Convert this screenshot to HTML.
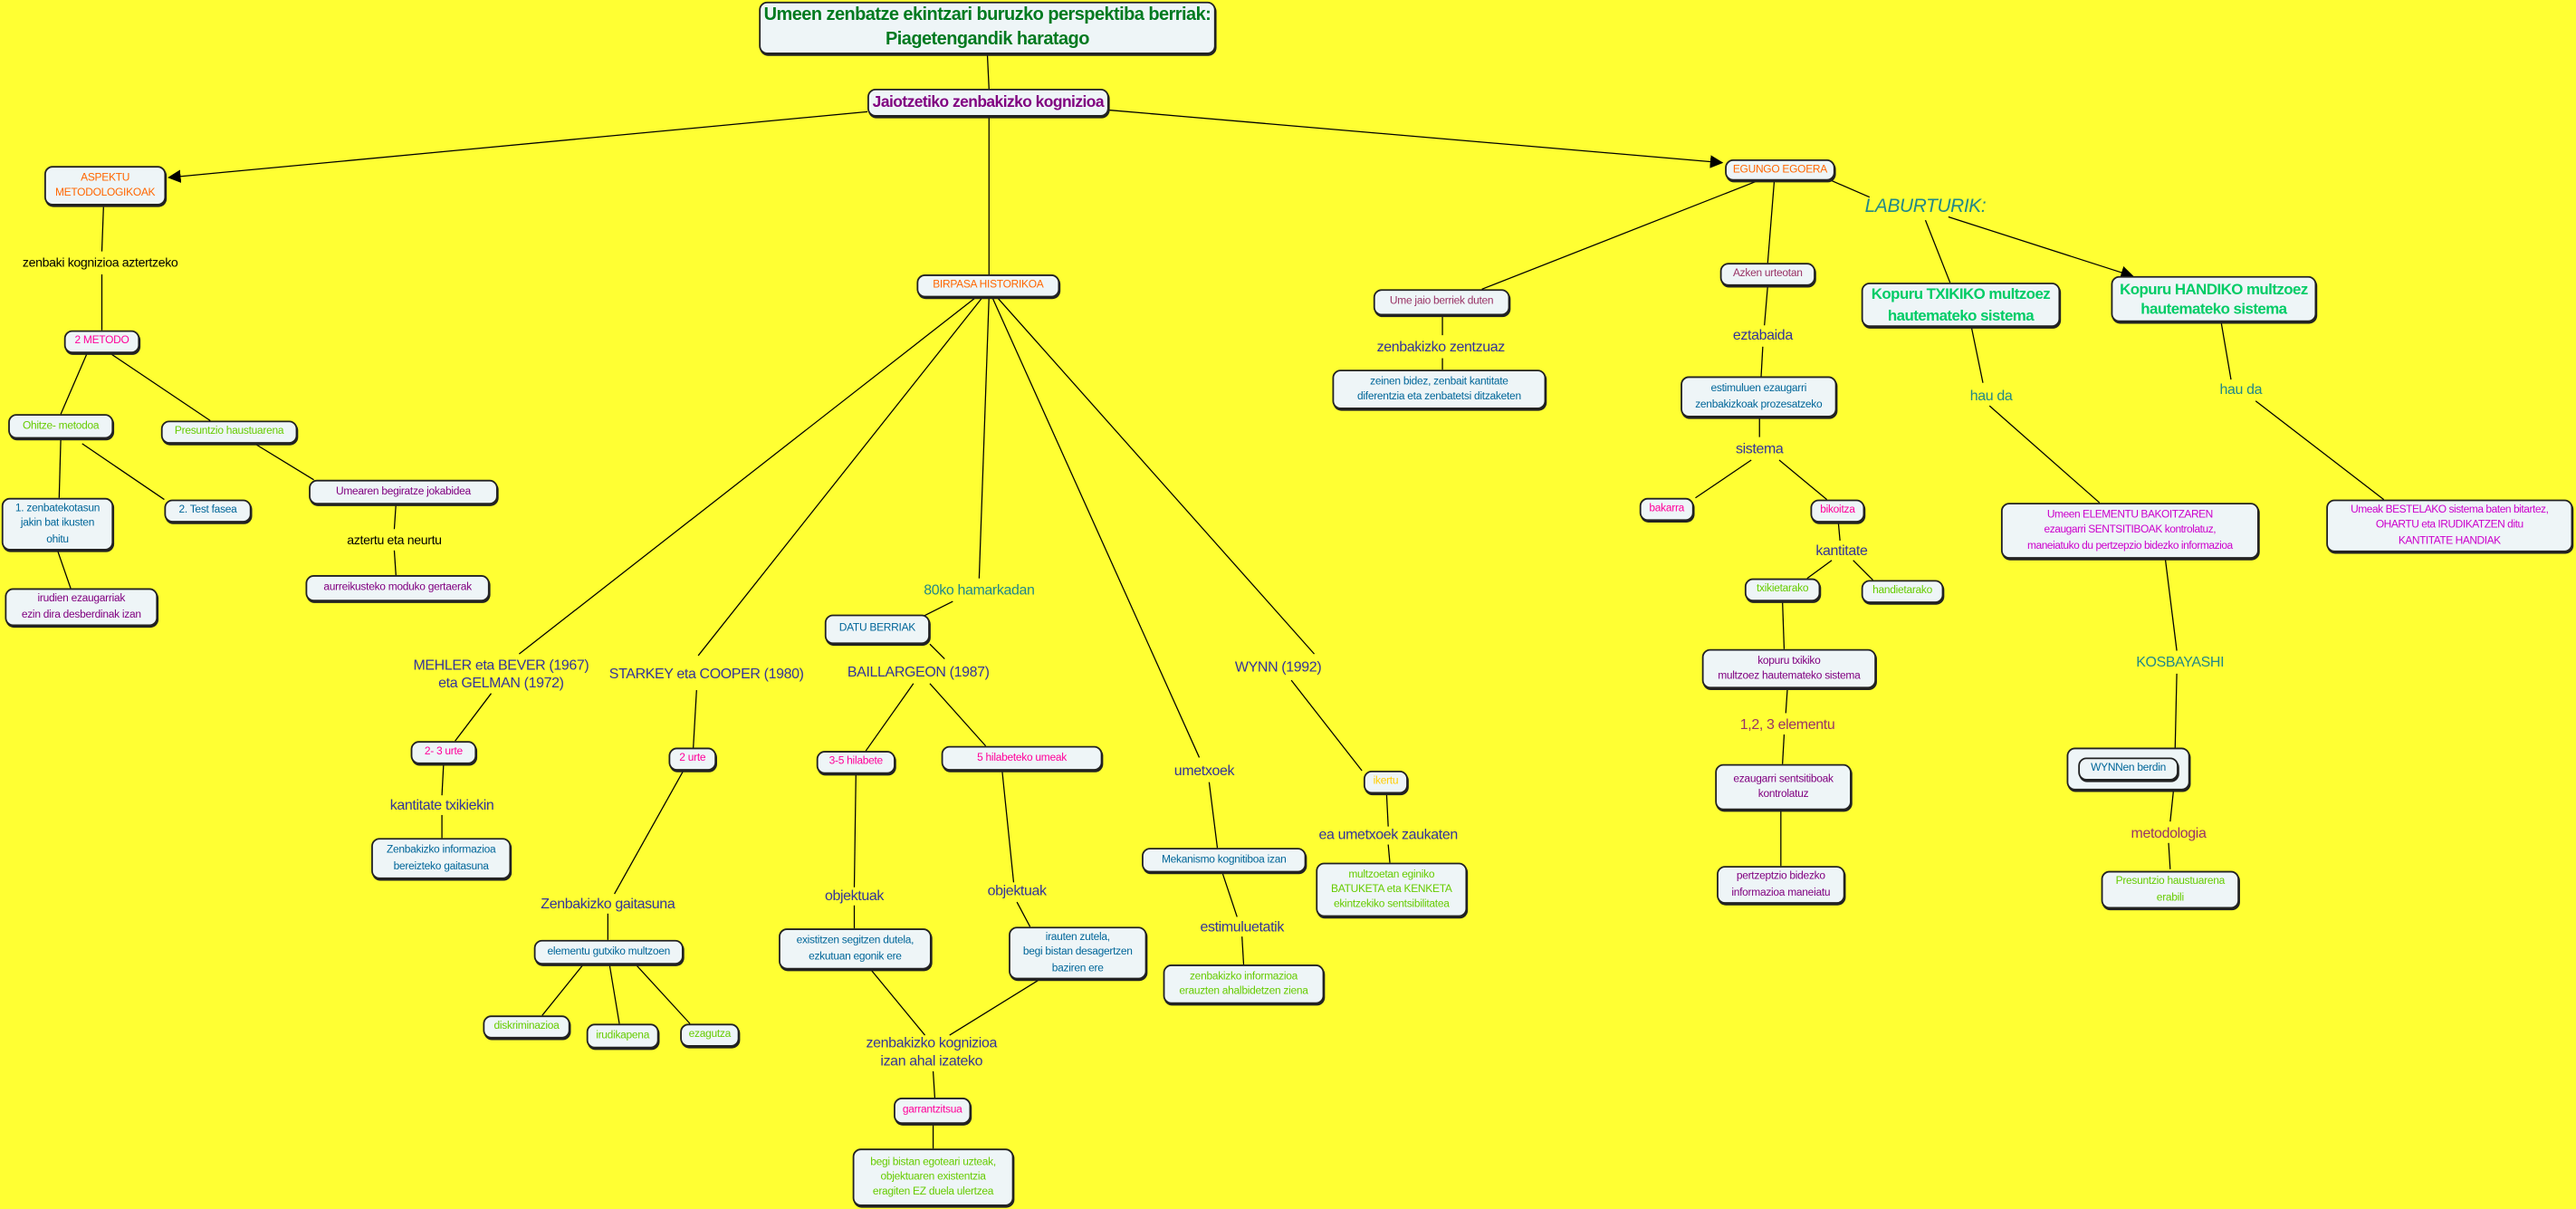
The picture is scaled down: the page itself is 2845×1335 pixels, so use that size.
<!DOCTYPE html>
<html><head><meta charset="utf-8">
<style>
html,body{margin:0;padding:0;background:#ffff33;overflow:hidden}
#c{position:absolute;left:0;top:0;width:1568px;height:736px;transform:scale(1.81441);transform-origin:0 0;font-family:"Liberation Sans",sans-serif}
.n{position:absolute;box-sizing:border-box;background:#eef5f7;border:1px solid #222;border-radius:5px;display:flex;align-items:center;justify-content:center;text-align:center;font-size:6.6px;letter-spacing:-0.15px;line-height:1.4;box-shadow:0.5px 1px 0 #222;white-space:nowrap}
.l{position:absolute;transform:translate(-50%,-50%);white-space:nowrap;text-align:center;font-size:8.8px;letter-spacing:-0.2px;color:#333399;line-height:1.2}
svg{position:absolute;left:0;top:0}
.o{color:#ff6600}.m{color:#ff0099}.g{color:#66cc00}.b{color:#006699}.p{color:#800080}.r{color:#993366}.t{color:#228888}.gg{color:#00cc66}.mm{color:#cc00cc}
</style></head><body><div id="c">
<svg width="1568" height="736" stroke="#000" stroke-width="0.7" fill="none">
<defs><marker id="a" markerWidth="8" markerHeight="8" refX="7" refY="4" orient="auto" markerUnits="userSpaceOnUse"><path d="M0,0 L8,4 L0,8z" fill="#000" stroke="none"/></marker></defs>
<line x1="601" y1="33" x2="602" y2="54"/>
<line x1="528" y1="68" x2="103" y2="108" marker-end="url(#a)"/>
<line x1="675" y1="67" x2="1048" y2="99" marker-end="url(#a)"/>
<line x1="602" y1="71" x2="602" y2="167"/>
<line x1="63" y1="126" x2="62" y2="153"/><line x1="62" y1="167" x2="62" y2="201"/>
<line x1="53" y1="215" x2="37" y2="252"/><line x1="67" y1="215" x2="128" y2="256"/>
<line x1="37" y1="267" x2="36" y2="303"/><line x1="50" y1="270" x2="100" y2="304"/>
<line x1="155" y1="270" x2="191" y2="292"/>
<line x1="241" y1="307" x2="240" y2="322"/><line x1="240" y1="335" x2="241" y2="350"/>
<line x1="35" y1="335" x2="43" y2="358"/>
<line x1="594" y1="181" x2="316" y2="398"/><line x1="299" y1="422" x2="277" y2="451"/>
<line x1="598" y1="181" x2="425" y2="399"/><line x1="424" y1="420" x2="422" y2="455"/>
<line x1="602" y1="181" x2="596" y2="352"/><line x1="580" y1="366" x2="562" y2="375"/>
<line x1="604" y1="181" x2="730" y2="461"/><line x1="736" y1="476" x2="741" y2="516"/>
<line x1="607" y1="181" x2="800" y2="398"/><line x1="786" y1="414" x2="829" y2="469"/>
<line x1="566" y1="392" x2="575" y2="401"/>
<line x1="556" y1="416" x2="527" y2="457"/><line x1="566" y1="416" x2="600" y2="454"/>
<line x1="270" y1="465" x2="269" y2="484"/><line x1="269" y1="496" x2="269" y2="510"/>
<line x1="416" y1="469" x2="374" y2="544"/><line x1="370" y1="556" x2="370" y2="572"/>
<line x1="355" y1="587" x2="330" y2="618"/><line x1="371" y1="587" x2="377" y2="623"/><line x1="387" y1="587" x2="420" y2="623"/>
<line x1="521" y1="471" x2="520" y2="540"/><line x1="520" y1="551" x2="520" y2="565"/>
<line x1="610" y1="469" x2="617" y2="537"/><line x1="619" y1="549" x2="627" y2="564"/>
<line x1="530" y1="590" x2="563" y2="630"/><line x1="633" y1="596" x2="578" y2="630"/>
<line x1="568" y1="652" x2="569" y2="668"/><line x1="568" y1="684" x2="568" y2="699"/>
<line x1="744" y1="531" x2="753" y2="558"/><line x1="756" y1="570" x2="757" y2="587"/>
<line x1="844" y1="483" x2="845" y2="503"/><line x1="845" y1="514" x2="846" y2="525"/>
<line x1="1070" y1="110" x2="902" y2="176"/>
<line x1="1080" y1="110" x2="1076" y2="160"/>
<line x1="1115" y1="110" x2="1138" y2="120"/>
<line x1="1172" y1="134" x2="1187" y2="172"/>
<line x1="1186" y1="132" x2="1298" y2="168" marker-end="url(#a)"/>
<line x1="878" y1="192" x2="878" y2="204"/><line x1="878" y1="218" x2="878" y2="225"/>
<line x1="1076" y1="174" x2="1074" y2="198"/><line x1="1073" y1="211" x2="1072" y2="229"/>
<line x1="1071" y1="254" x2="1071" y2="266"/><line x1="1066" y1="280" x2="1032" y2="303"/><line x1="1083" y1="280" x2="1112" y2="304"/>
<line x1="1119" y1="318" x2="1120" y2="329"/><line x1="1115" y1="341" x2="1100" y2="352"/><line x1="1128" y1="341" x2="1140" y2="353"/>
<line x1="1085" y1="366" x2="1086" y2="395"/>
<line x1="1088" y1="419" x2="1087" y2="434"/><line x1="1086" y1="447" x2="1085" y2="465"/>
<line x1="1084" y1="493" x2="1084" y2="527"/>
<line x1="1200" y1="199" x2="1207" y2="233"/><line x1="1211" y1="247" x2="1278" y2="306"/>
<line x1="1352" y1="196" x2="1358" y2="231"/><line x1="1373" y1="244" x2="1451" y2="304"/>
<line x1="1318" y1="340" x2="1325" y2="396"/><line x1="1325" y1="410" x2="1324" y2="455"/>
<line x1="1323" y1="481" x2="1321" y2="500"/><line x1="1320" y1="513" x2="1321" y2="529"/>
</svg>

<div class="n" style="left:462px;top:1px;width:278px;height:32px;font-size:11px;letter-spacing:-0.3px;font-weight:bold;color:#007a20;line-height:1.35">Umeen zenbatze ekintzari buruzko perspektiba berriak:<br>Piagetengandik haratago</div>
<div class="n p" style="left:528px;top:54px;width:147px;height:17px;font-size:9.6px;letter-spacing:-0.3px;font-weight:bold">Jaiotzetiko zenbakizko kognizioa</div>
<div class="n o" style="left:27px;top:101px;width:74px;height:24px">ASPEKTU<br>METODOLOGIKOAK</div>
<div class="n o" style="left:1050px;top:97px;width:67px;height:13px">EGUNGO EGOERA</div>
<div class="n o" style="left:558px;top:167px;width:87px;height:14px">BIRPASA HISTORIKOA</div>
<div class="n m" style="left:39px;top:201px;width:46px;height:14px">2 METODO</div>
<div class="n g" style="left:5px;top:252px;width:64px;height:15px">Ohitze- metodoa</div>
<div class="n g" style="left:98px;top:256px;width:83px;height:14px">Presuntzio haustuarena</div>
<div class="n b" style="left:1px;top:303px;width:68px;height:32px">1. zenbatekotasun<br>jakin bat ikusten<br>ohitu</div>
<div class="n b" style="left:100px;top:304px;width:53px;height:14px">2. Test fasea</div>
<div class="n p" style="left:188px;top:292px;width:115px;height:15px">Umearen begiratze jokabidea</div>
<div class="n p" style="left:186px;top:350px;width:112px;height:16px">aurreikusteko moduko gertaerak</div>
<div class="n p" style="left:3px;top:358px;width:93px;height:23px">irudien ezaugarriak<br>ezin dira desberdinak izan</div>
<div class="n r" style="left:836px;top:176px;width:83px;height:16px">Ume jaio berriek duten</div>
<div class="n b" style="left:811px;top:225px;width:130px;height:24px">zeinen bidez, zenbait kantitate<br>diferentzia eta zenbatetsi ditzaketen</div>
<div class="n r" style="left:1047px;top:160px;width:58px;height:14px">Azken urteotan</div>
<div class="n b" style="left:1023px;top:229px;width:95px;height:25px">estimuluen ezaugarri<br>zenbakizkoak prozesatzeko</div>
<div class="n gg" style="left:1133px;top:172px;width:121px;height:27px;font-size:9.3px;letter-spacing:-0.3px;font-weight:bold;line-height:1.3">Kopuru TXIKIKO multzoez<br>hautemateko sistema</div>
<div class="n gg" style="left:1285px;top:168px;width:125px;height:28px;font-size:9.3px;letter-spacing:-0.3px;font-weight:bold;line-height:1.3">Kopuru HANDIKO multzoez<br>hautemateko sistema</div>
<div class="n m" style="left:998px;top:303px;width:33px;height:14px">bakarra</div>
<div class="n m" style="left:1102px;top:304px;width:33px;height:14px">bikoitza</div>
<div class="n g" style="left:1062px;top:352px;width:46px;height:14px">txikietarako</div>
<div class="n g" style="left:1133px;top:353px;width:50px;height:14px">handietarako</div>
<div class="n p" style="left:1036px;top:395px;width:106px;height:24px">kopuru txikiko<br>multzoez hautemateko sistema</div>
<div class="n p" style="left:1044px;top:465px;width:83px;height:28px">ezaugarri sentsitiboak<br>kontrolatuz</div>
<div class="n p" style="left:1045px;top:527px;width:78px;height:23px">pertzeptzio bidezko<br>informazioa maneiatu</div>
<div class="n mm" style="left:1218px;top:306px;width:157px;height:34px;letter-spacing:-0.25px">Umeen ELEMENTU BAKOITZAREN<br>ezaugarri SENTSITIBOAK kontrolatuz,<br>maneiatuko du pertzepzio bidezko informazioa</div>
<div class="n mm" style="left:1416px;top:304px;width:150px;height:32px;letter-spacing:-0.25px">Umeak BESTELAKO sistema baten bitartez,<br>OHARTU eta IRUDIKATZEN ditu<br>KANTITATE HANDIAK</div>
<div class="n" style="left:1258px;top:455px;width:75px;height:26px"><div class="n b" style="position:static;width:61px;height:14px">WYNNen berdin</div></div>
<div class="n g" style="left:1279px;top:530px;width:84px;height:23px">Presuntzio haustuarena<br>erabili</div>
<div class="n b" style="left:502px;top:374px;width:64px;height:18px">DATU BERRIAK</div>
<div class="n m" style="left:250px;top:451px;width:40px;height:14px">2- 3 urte</div>
<div class="n b" style="left:226px;top:510px;width:85px;height:25px">Zenbakizko informazioa<br>bereizteko gaitasuna</div>
<div class="n m" style="left:407px;top:455px;width:29px;height:14px">2 urte</div>
<div class="n b" style="left:325px;top:572px;width:91px;height:15px">elementu gutxiko multzoen</div>
<div class="n g" style="left:294px;top:618px;width:53px;height:14px">diskriminazioa</div>
<div class="n g" style="left:357px;top:623px;width:44px;height:15px">irudikapena</div>
<div class="n g" style="left:414px;top:623px;width:36px;height:14px">ezagutza</div>
<div class="n m" style="left:497px;top:457px;width:48px;height:14px">3-5 hilabete</div>
<div class="n m" style="left:573px;top:454px;width:98px;height:15px">5 hilabeteko umeak</div>
<div class="n b" style="left:474px;top:565px;width:93px;height:25px">existitzen segitzen dutela,<br>ezkutuan egonik ere</div>
<div class="n b" style="left:614px;top:564px;width:84px;height:32px">irauten zutela,<br>begi bistan desagertzen<br>baziren ere</div>
<div class="n m" style="left:544px;top:668px;width:47px;height:16px">garrantzitsua</div>
<div class="n g" style="left:519px;top:699px;width:98px;height:35px">begi bistan egoteari uzteak,<br>objektuaren existentzia<br>eragiten EZ duela ulertzea</div>
<div class="n b" style="left:695px;top:516px;width:100px;height:15px">Mekanismo kognitiboa izan</div>
<div class="n g" style="left:708px;top:587px;width:98px;height:24px">zenbakizko informazioa<br>erauzten ahalbidetzen ziena</div>
<div class="n" style="left:830px;top:469px;width:27px;height:14px;color:#ffcc00">ikertu</div>
<div class="n g" style="left:801px;top:525px;width:92px;height:33px">multzoetan eginiko<br>BATUKETA eta KENKETA<br>ekintzekiko sentsibilitatea</div>

<div class="l" style="left:61px;top:160px;color:#000;font-size:7.8px">zenbaki kognizioa aztertzeko</div>
<div class="l" style="left:240px;top:329px;color:#000;font-size:7.8px">aztertu eta neurtu</div>
<div class="l t" style="left:596px;top:359px">80ko hamarkadan</div>
<div class="l" style="left:305px;top:410px">MEHLER eta BEVER (1967)<br>eta GELMAN (1972)</div>
<div class="l" style="left:430px;top:410px">STARKEY eta COOPER (1980)</div>
<div class="l" style="left:559px;top:409px">BAILLARGEON (1987)</div>
<div class="l" style="left:778px;top:406px">WYNN (1992)</div>
<div class="l" style="left:269px;top:490px">kantitate txikiekin</div>
<div class="l" style="left:370px;top:550px">Zenbakizko gaitasuna</div>
<div class="l" style="left:520px;top:545px">objektuak</div>
<div class="l" style="left:619px;top:542px">objektuak</div>
<div class="l" style="left:567px;top:640px">zenbakizko kognizioa<br>izan ahal izateko</div>
<div class="l" style="left:733px;top:469px">umetxoek</div>
<div class="l" style="left:756px;top:564px">estimuluetatik</div>
<div class="l" style="left:845px;top:508px">ea umetxoek zaukaten</div>
<div class="l" style="left:877px;top:211px">zenbakizko zentzuaz</div>
<div class="l" style="left:1073px;top:204px">eztabaida</div>
<div class="l" style="left:1071px;top:273px">sistema</div>
<div class="l" style="left:1121px;top:335px">kantitate</div>
<div class="l r" style="left:1088px;top:441px">1,2, 3 elementu</div>
<div class="l r" style="left:1320px;top:507px">metodologia</div>
<div class="l t" style="left:1172px;top:127px;font-size:11.5px;font-style:italic">LABURTURIK:</div>
<div class="l t" style="left:1212px;top:241px">hau da</div>
<div class="l t" style="left:1364px;top:237px">hau da</div>
<div class="l t" style="left:1327px;top:403px">KOSBAYASHI</div>
</div></body></html>
